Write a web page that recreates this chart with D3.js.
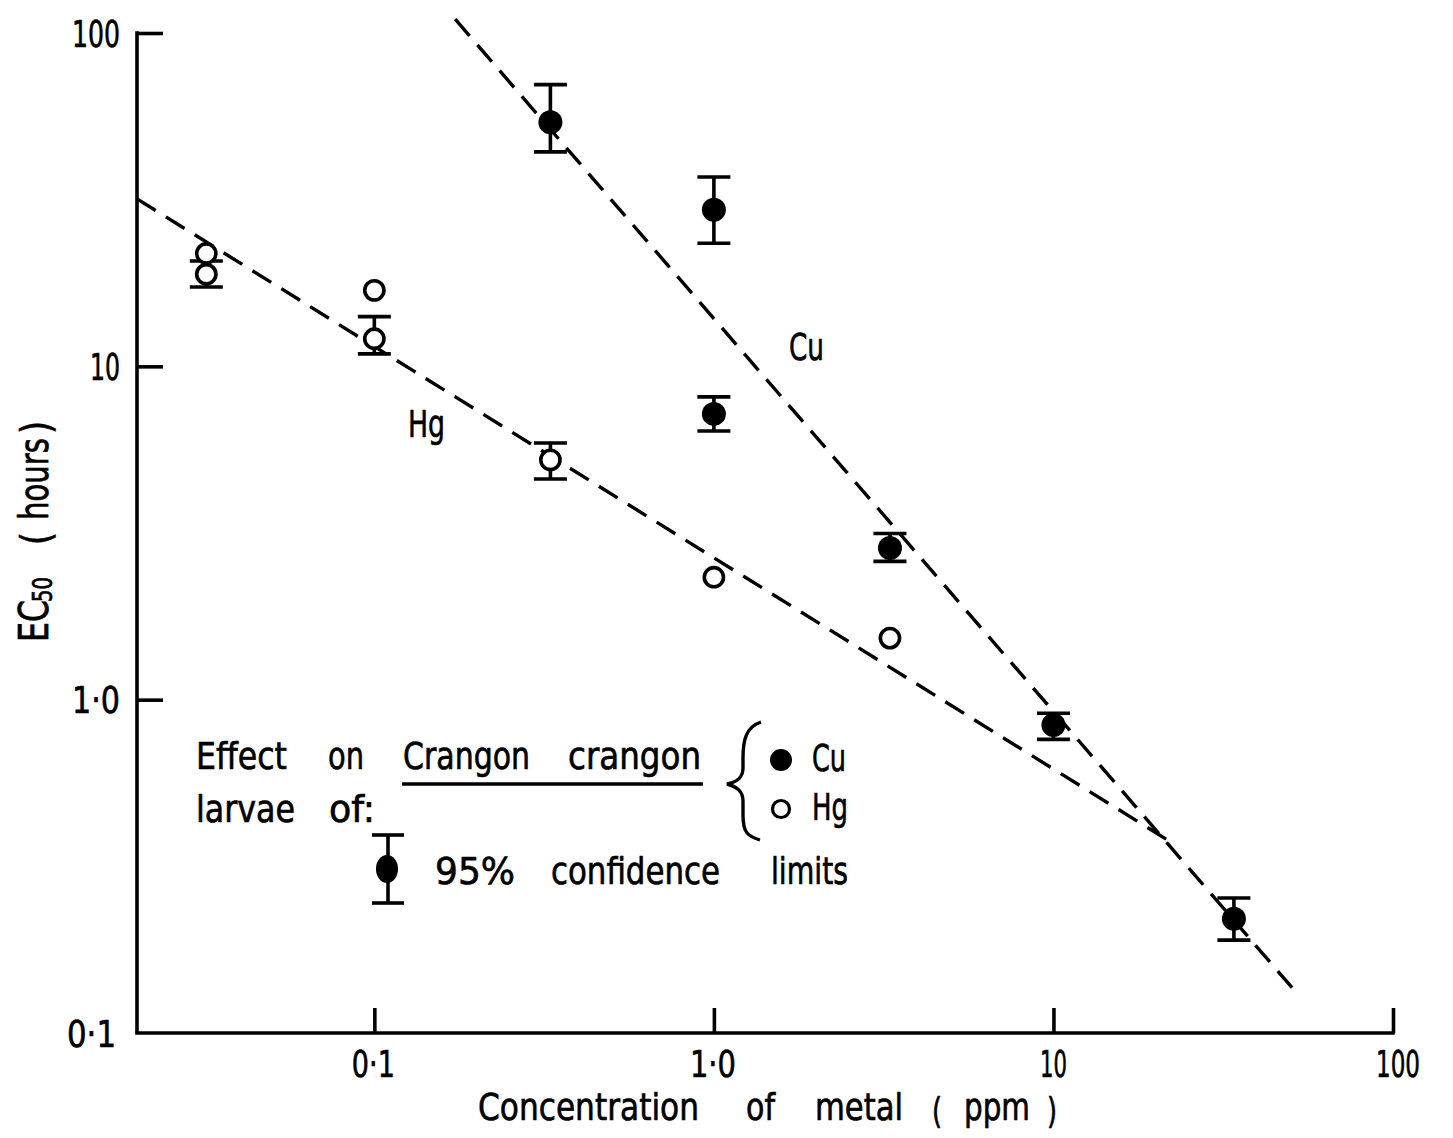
<!DOCTYPE html>
<html>
<head>
<meta charset="utf-8">
<script src="https://cdn.jsdelivr.net/npm/d3@7"></script>
<style>
  html, body { margin: 0; padding: 0; background: #fff; }
  svg text { font-family: "DejaVu Sans", "Liberation Sans", sans-serif; fill: #000; stroke: #000; stroke-width: 0.7px; }
</style>
</head>
<body>
<svg id="chart" width="1453" height="1138"></svg>
<script>
// ---------- data ----------
const xTickValues = [0.1, 1, 10, 100];
const xTickLabels = ["0·1", "1·0", "10", "100"];
const yTickValues = [0.1, 1, 10, 100];
const yTickLabels = ["0·1", "1·0", "10", "100"];

// Cu (filled circles), all with 95% confidence limits
const cuConc  = [0.33, 1.0, 1.0, 3.3, 10, 34];
const cuEC50  = [54, 29.5, 7.2, 2.85, 0.84, 0.22];
const cuLow   = [44, 23.4, 6.4, 2.6, 0.76, 0.19];
const cuHigh  = [70, 37, 8.1, 3.15, 0.91, 0.254];

// Hg (open circles)
const hgConc  = [0.032, 0.032, 0.1, 0.1, 0.33, 1.0, 3.3];
const hgEC50  = [21.8, 18.9, 16.9, 12.1, 5.24, 2.33, 1.53];
const hgLow   = [null, 17.3, null, 10.9, 4.59, null, null];
const hgHigh  = [null, 20.7, null, 14.1, 5.89, null, null];

// fitted (dashed) regression lines
const cuFitConc = [0.173, 52];
const cuFitEC50 = [110, 0.132];
const hgFitConc = [0.02, 21.7];
const hgFitEC50 = [31.8, 0.379];

// ---------- drawing ----------
(function () {
const svg = d3.select("#chart");
const pLeft = 137, pRight = 1393, pTop = 33, pBottom = 1033;

const x = d3.scaleLog().domain([0.02, 100]).range([pLeft, pRight]);
const y = d3.scaleLog().domain([0.1, 100]).range([pBottom, pTop]);

const ink = "#000";
const sw = 3.6;

// text helper: condensed lettering via textLength
function txt(g, px, py, s, len, size, anchor) {
  return g.append("text").attr("x", px).attr("y", py)
    .attr("font-size", size || 38)
    .attr("text-anchor", anchor || "start")
    .attr("textLength", len).attr("lengthAdjust", "spacingAndGlyphs")
    .text(s);
}

// axes lines
svg.append("line").attr("x1", pLeft).attr("x2", pLeft).attr("y1", pTop - 1.8).attr("y2", pBottom)
  .attr("stroke", ink).attr("stroke-width", sw);
svg.append("line").attr("x1", pLeft - 1.8).attr("x2", pRight + 1.8).attr("y1", pBottom).attr("y2", pBottom)
  .attr("stroke", ink).attr("stroke-width", sw);

// y ticks (pointing inward)
const yAxis = d3.axisRight(y).tickValues(yTickValues.filter(v => v > 0.1))
  .tickSize(26).tickFormat("");
const gy = svg.append("g").attr("transform", `translate(${pLeft},0)`).call(yAxis);
gy.select(".domain").remove();
gy.selectAll("line").attr("stroke", ink).attr("stroke-width", sw);

const yLabLen = [49, 48, 30, 48];
const yLabRight = [116, 120, 120, 120];
const gyl = svg.append("g");
yTickValues.forEach((d, i) => txt(gyl, yLabRight[i], y(d) + 13.5, yTickLabels[i], yLabLen[i], 37, "end"));

// x ticks (pointing up)
const xAxis = d3.axisTop(x).tickValues(xTickValues).tickSize(25).tickFormat("");
const gx = svg.append("g").attr("transform", `translate(0,${pBottom})`).call(xAxis);
gx.select(".domain").remove();
gx.selectAll("line").attr("stroke", ink).attr("stroke-width", sw);

const xLabLen = [43, 46, 27, 44];
const xLabShift = [-1, -1, 0, 5];
const gxl = svg.append("g");
xTickValues.forEach((d, i) => txt(gxl, x(d) + xLabShift[i], 1077, xTickLabels[i], xLabLen[i], 37, "middle"));

// x axis title
const gxt = svg.append("g");
txt(gxt, 478, 1120, "Concentration", 221, 38);
txt(gxt, 746, 1120, "of", 29, 38);
txt(gxt, 815, 1120, "metal", 88, 38);
txt(gxt, 932, 1123, "(", 10, 35);
txt(gxt, 964, 1120, "ppm", 66, 38);
txt(gxt, 1047, 1123, ")", 10, 35);

// y axis title (rotated)
const gyt = svg.append("g").attr("transform", "translate(48,0) rotate(-90)");
txt(gyt, -642, 0, "EC", 42, 40);
txt(gyt, -602, 4, "50", 25, 27);
txt(gyt, -545, 2, "(", 13, 40);
txt(gyt, -520, 0, "hours", 82, 40);
txt(gyt, -434, 2, ")", 13, 40);

// fitted lines
const line = d3.line().x(d => x(d[0])).y(d => y(d[1]));
svg.append("path").attr("d", line(cuFitConc.map((c, i) => [c, cuFitEC50[i]])))
  .attr("fill", "none").attr("stroke", ink).attr("stroke-width", 3.4)
  .attr("stroke-dasharray", "22 12");
svg.append("path").attr("d", line(hgFitConc.map((c, i) => [c, hgFitEC50[i]])))
  .attr("fill", "none").attr("stroke", ink).attr("stroke-width", 3.4)
  .attr("stroke-dasharray", "22 12");

// error bars
const capHalf = 16.5;
function errorBars(conc, low, high) {
  const rows = conc.map((c, i) => ({ c, lo: low[i], hi: high[i] })).filter(d => d.lo != null);
  const g = svg.append("g").attr("stroke", ink).attr("stroke-width", 3.6);
  g.selectAll(".v").data(rows).join("line").attr("class", "v")
    .attr("x1", d => x(d.c)).attr("x2", d => x(d.c))
    .attr("y1", d => y(d.hi)).attr("y2", d => y(d.lo));
  g.selectAll(".t").data(rows).join("line").attr("class", "t")
    .attr("x1", d => x(d.c) - capHalf).attr("x2", d => x(d.c) + capHalf)
    .attr("y1", d => y(d.hi)).attr("y2", d => y(d.hi));
  g.selectAll(".b").data(rows).join("line").attr("class", "b")
    .attr("x1", d => x(d.c) - capHalf).attr("x2", d => x(d.c) + capHalf)
    .attr("y1", d => y(d.lo)).attr("y2", d => y(d.lo));
}
errorBars(cuConc, cuLow, cuHigh);
errorBars(hgConc, hgLow, hgHigh);

// points
svg.append("g").selectAll("circle").data(cuConc.map((c, i) => [c, cuEC50[i]])).join("circle")
  .attr("cx", d => x(d[0])).attr("cy", d => y(d[1])).attr("r", 12).attr("fill", ink);
svg.append("g").selectAll("circle").data(hgConc.map((c, i) => [c, hgEC50[i]])).join("circle")
  .attr("cx", d => x(d[0])).attr("cy", d => y(d[1])).attr("r", 9.6)
  .attr("fill", "#fff").attr("stroke", ink).attr("stroke-width", 3.6);

// line labels
const gl = svg.append("g");
txt(gl, 789, 360, "Cu", 35, 38);
txt(gl, 408, 437, "Hg", 37, 38);

// legend
const lg = svg.append("g");
txt(lg, 196, 769, "Effect", 91, 38);
txt(lg, 328, 769, "on", 36, 38);
txt(lg, 403, 769, "Crangon", 127, 38);
txt(lg, 568, 769, "crangon", 133, 38);
txt(lg, 196, 822, "larvae", 99, 38);
txt(lg, 329, 822, "of:", 46, 38);
lg.append("line").attr("x1", 402).attr("x2", 703).attr("y1", 784).attr("y2", 784)
  .attr("stroke", ink).attr("stroke-width", 3.4);
lg.append("path")
  .attr("d", "M 761 722 C 746 727, 743 740, 743 758 L 743 768 C 743 778, 737 782, 727 784 C 737 787, 743 791, 743 801 L 743 815 C 743 832, 747 836, 760 840")
  .attr("fill", "none").attr("stroke", ink).attr("stroke-width", 3.4);
lg.append("circle").attr("cx", 781).attr("cy", 760).attr("r", 11).attr("fill", ink);
txt(lg, 812, 771, "Cu", 34, 38);
lg.append("circle").attr("cx", 781).attr("cy", 809).attr("r", 8.5).attr("fill", "#fff")
  .attr("stroke", ink).attr("stroke-width", 3.2);
txt(lg, 812, 820, "Hg", 36, 38);
// legend error bar symbol
const eb = lg.append("g").attr("stroke", ink).attr("stroke-width", 3.6);
eb.append("line").attr("x1", 388).attr("x2", 388).attr("y1", 835).attr("y2", 903);
eb.append("line").attr("x1", 372).attr("x2", 404).attr("y1", 835).attr("y2", 835);
eb.append("line").attr("x1", 372).attr("x2", 404).attr("y1", 903).attr("y2", 903);
lg.append("ellipse").attr("cx", 387).attr("cy", 869).attr("rx", 11).attr("ry", 14).attr("fill", ink);
txt(lg, 435, 884, "95%", 80, 38);
txt(lg, 551, 884, "confidence", 169, 38);
txt(lg, 771, 884, "limits", 77, 38);
})();
</script>
</body>
</html>
